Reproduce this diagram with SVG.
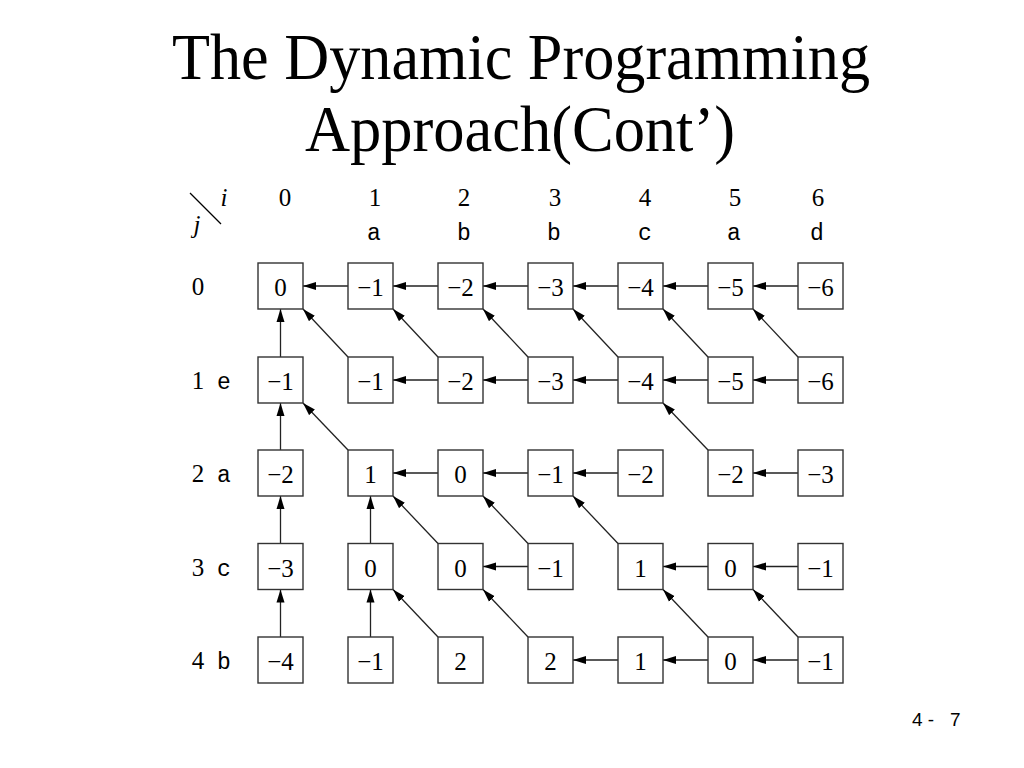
<svg xmlns="http://www.w3.org/2000/svg" width="1024" height="768" viewBox="0 0 1024 768">
<style>
.title{font-family:"Liberation Serif",serif;font-size:65px;fill:#000}
.num{font-family:"Liberation Serif",serif;font-size:25px;fill:#000;text-anchor:middle}
.hdr{font-family:"Liberation Serif",serif;font-size:25px;fill:#000;text-anchor:middle}
.it{font-style:italic}
.mono{font-family:"Liberation Mono",monospace;font-size:23px;fill:#000;text-anchor:middle}
.box{fill:#fff;stroke:#333;stroke-width:1.4}
.arr{stroke:#222;stroke-width:1.3;fill:none;marker-end:url(#ah)}
.pg{font-family:"Liberation Sans",sans-serif;font-size:19px;fill:#000}
</style>
<defs>
<marker id="ah" markerUnits="userSpaceOnUse" markerWidth="14" markerHeight="10" refX="13" refY="4.5" orient="auto">
<path d="M0,0.5 L13,4.5 L0,8.5 Z" fill="#000"/>
</marker>
</defs>
<rect width="1024" height="768" fill="#fff"/>
<g id="title">
<text class="title" x="172" y="79" textLength="698" lengthAdjust="spacingAndGlyphs">The Dynamic Programming</text>
<text class="title" x="305" y="151" textLength="430" lengthAdjust="spacingAndGlyphs">Approach(Cont’)</text>
</g>
<g id="header">
<line x1="190" y1="193" x2="221" y2="224" stroke="#000" stroke-width="1.3"/>
<text class="hdr it" x="224" y="206">i</text>
<text class="hdr it" x="197" y="233">j</text>
<text class="hdr" x="285" y="206">0</text>
<text class="hdr" x="375" y="206">1</text>
<text class="hdr" x="464" y="206">2</text>
<text class="hdr" x="555" y="206">3</text>
<text class="hdr" x="645" y="206">4</text>
<text class="hdr" x="735" y="206">5</text>
<text class="hdr" x="818" y="206">6</text>
<text class="mono" x="374" y="240">a</text>
<text class="mono" x="464" y="240">b</text>
<text class="mono" x="554" y="240">b</text>
<text class="mono" x="645" y="240">c</text>
<text class="mono" x="734" y="240">a</text>
<text class="mono" x="817" y="240">d</text>
<text class="hdr" x="198" y="295">0</text>
<text class="hdr" x="198" y="389">1</text>
<text class="mono" x="224" y="389">e</text>
<text class="hdr" x="198" y="482">2</text>
<text class="mono" x="224" y="482">a</text>
<text class="hdr" x="198" y="576">3</text>
<text class="mono" x="224" y="576">c</text>
<text class="hdr" x="198" y="669">4</text>
<text class="mono" x="224" y="669">b</text>
</g>
<g id="connectors">
<line class="arr" x1="348" y1="286" x2="303" y2="286"/>
<line class="arr" x1="438" y1="286" x2="393" y2="286"/>
<line class="arr" x1="528" y1="286" x2="483" y2="286"/>
<line class="arr" x1="618" y1="286" x2="573" y2="286"/>
<line class="arr" x1="708" y1="286" x2="663" y2="286"/>
<line class="arr" x1="798" y1="286" x2="753" y2="286"/>
<line class="arr" x1="280.5" y1="357" x2="280.5" y2="309"/>
<line class="arr" x1="348" y1="357" x2="303" y2="309"/>
<line class="arr" x1="438" y1="357" x2="393" y2="309"/>
<line class="arr" x1="528" y1="357" x2="483" y2="309"/>
<line class="arr" x1="618" y1="357" x2="573" y2="309"/>
<line class="arr" x1="708" y1="357" x2="663" y2="309"/>
<line class="arr" x1="798" y1="357" x2="753" y2="309"/>
<line class="arr" x1="438" y1="380" x2="393" y2="380"/>
<line class="arr" x1="528" y1="380" x2="483" y2="380"/>
<line class="arr" x1="618" y1="380" x2="573" y2="380"/>
<line class="arr" x1="708" y1="380" x2="663" y2="380"/>
<line class="arr" x1="798" y1="380" x2="753" y2="380"/>
<line class="arr" x1="280.5" y1="450" x2="280.5" y2="403"/>
<line class="arr" x1="348" y1="450" x2="303" y2="403"/>
<line class="arr" x1="438" y1="473" x2="393" y2="473"/>
<line class="arr" x1="528" y1="473" x2="483" y2="473"/>
<line class="arr" x1="618" y1="473" x2="573" y2="473"/>
<line class="arr" x1="708" y1="450" x2="663" y2="403"/>
<line class="arr" x1="798" y1="473" x2="753" y2="473"/>
<line class="arr" x1="280.5" y1="543.5" x2="280.5" y2="496"/>
<line class="arr" x1="370.5" y1="543.5" x2="370.5" y2="496"/>
<line class="arr" x1="438" y1="543.5" x2="393" y2="496"/>
<line class="arr" x1="528" y1="543.5" x2="483" y2="496"/>
<line class="arr" x1="528" y1="566.5" x2="483" y2="566.5"/>
<line class="arr" x1="618" y1="543.5" x2="573" y2="496"/>
<line class="arr" x1="708" y1="566.5" x2="663" y2="566.5"/>
<line class="arr" x1="798" y1="566.5" x2="753" y2="566.5"/>
<line class="arr" x1="280.5" y1="637" x2="280.5" y2="589.5"/>
<line class="arr" x1="370.5" y1="637" x2="370.5" y2="589.5"/>
<line class="arr" x1="438" y1="637" x2="393" y2="589.5"/>
<line class="arr" x1="528" y1="637" x2="483" y2="589.5"/>
<line class="arr" x1="618" y1="660" x2="573" y2="660"/>
<line class="arr" x1="708" y1="660" x2="663" y2="660"/>
<line class="arr" x1="708" y1="637" x2="663" y2="589.5"/>
<line class="arr" x1="798" y1="637" x2="753" y2="589.5"/>
<line class="arr" x1="798" y1="660" x2="753" y2="660"/>
</g>
<g id="n0-0"><rect class="box" x="258" y="263" width="45" height="46"/><text class="num" x="280.5" y="296">0</text></g>
<g id="n0-1"><rect class="box" x="348" y="263" width="45" height="46"/><text class="num" x="370.5" y="296">−1</text></g>
<g id="n0-2"><rect class="box" x="438" y="263" width="45" height="46"/><text class="num" x="460.5" y="296">−2</text></g>
<g id="n0-3"><rect class="box" x="528" y="263" width="45" height="46"/><text class="num" x="550.5" y="296">−3</text></g>
<g id="n0-4"><rect class="box" x="618" y="263" width="45" height="46"/><text class="num" x="640.5" y="296">−4</text></g>
<g id="n0-5"><rect class="box" x="708" y="263" width="45" height="46"/><text class="num" x="730.5" y="296">−5</text></g>
<g id="n0-6"><rect class="box" x="798" y="263" width="45" height="46"/><text class="num" x="820.5" y="296">−6</text></g>
<g id="n1-0"><rect class="box" x="258" y="357" width="45" height="46"/><text class="num" x="280.5" y="390">−1</text></g>
<g id="n1-1"><rect class="box" x="348" y="357" width="45" height="46"/><text class="num" x="370.5" y="390">−1</text></g>
<g id="n1-2"><rect class="box" x="438" y="357" width="45" height="46"/><text class="num" x="460.5" y="390">−2</text></g>
<g id="n1-3"><rect class="box" x="528" y="357" width="45" height="46"/><text class="num" x="550.5" y="390">−3</text></g>
<g id="n1-4"><rect class="box" x="618" y="357" width="45" height="46"/><text class="num" x="640.5" y="390">−4</text></g>
<g id="n1-5"><rect class="box" x="708" y="357" width="45" height="46"/><text class="num" x="730.5" y="390">−5</text></g>
<g id="n1-6"><rect class="box" x="798" y="357" width="45" height="46"/><text class="num" x="820.5" y="390">−6</text></g>
<g id="n2-0"><rect class="box" x="258" y="450" width="45" height="46"/><text class="num" x="280.5" y="483">−2</text></g>
<g id="n2-1"><rect class="box" x="348" y="450" width="45" height="46"/><text class="num" x="370.5" y="483">1</text></g>
<g id="n2-2"><rect class="box" x="438" y="450" width="45" height="46"/><text class="num" x="460.5" y="483">0</text></g>
<g id="n2-3"><rect class="box" x="528" y="450" width="45" height="46"/><text class="num" x="550.5" y="483">−1</text></g>
<g id="n2-4"><rect class="box" x="618" y="450" width="45" height="46"/><text class="num" x="640.5" y="483">−2</text></g>
<g id="n2-5"><rect class="box" x="708" y="450" width="45" height="46"/><text class="num" x="730.5" y="483">−2</text></g>
<g id="n2-6"><rect class="box" x="798" y="450" width="45" height="46"/><text class="num" x="820.5" y="483">−3</text></g>
<g id="n3-0"><rect class="box" x="258" y="543.5" width="45" height="46"/><text class="num" x="280.5" y="576.5">−3</text></g>
<g id="n3-1"><rect class="box" x="348" y="543.5" width="45" height="46"/><text class="num" x="370.5" y="576.5">0</text></g>
<g id="n3-2"><rect class="box" x="438" y="543.5" width="45" height="46"/><text class="num" x="460.5" y="576.5">0</text></g>
<g id="n3-3"><rect class="box" x="528" y="543.5" width="45" height="46"/><text class="num" x="550.5" y="576.5">−1</text></g>
<g id="n3-4"><rect class="box" x="618" y="543.5" width="45" height="46"/><text class="num" x="640.5" y="576.5">1</text></g>
<g id="n3-5"><rect class="box" x="708" y="543.5" width="45" height="46"/><text class="num" x="730.5" y="576.5">0</text></g>
<g id="n3-6"><rect class="box" x="798" y="543.5" width="45" height="46"/><text class="num" x="820.5" y="576.5">−1</text></g>
<g id="n4-0"><rect class="box" x="258" y="637" width="45" height="46"/><text class="num" x="280.5" y="670">−4</text></g>
<g id="n4-1"><rect class="box" x="348" y="637" width="45" height="46"/><text class="num" x="370.5" y="670">−1</text></g>
<g id="n4-2"><rect class="box" x="438" y="637" width="45" height="46"/><text class="num" x="460.5" y="670">2</text></g>
<g id="n4-3"><rect class="box" x="528" y="637" width="45" height="46"/><text class="num" x="550.5" y="670">2</text></g>
<g id="n4-4"><rect class="box" x="618" y="637" width="45" height="46"/><text class="num" x="640.5" y="670">1</text></g>
<g id="n4-5"><rect class="box" x="708" y="637" width="45" height="46"/><text class="num" x="730.5" y="670">0</text></g>
<g id="n4-6"><rect class="box" x="798" y="637" width="45" height="46"/><text class="num" x="820.5" y="670">−1</text></g>
<g id="page"><text class="pg" x="912" y="726">4 -</text><text class="pg" x="950" y="726">7</text></g>
</svg>
